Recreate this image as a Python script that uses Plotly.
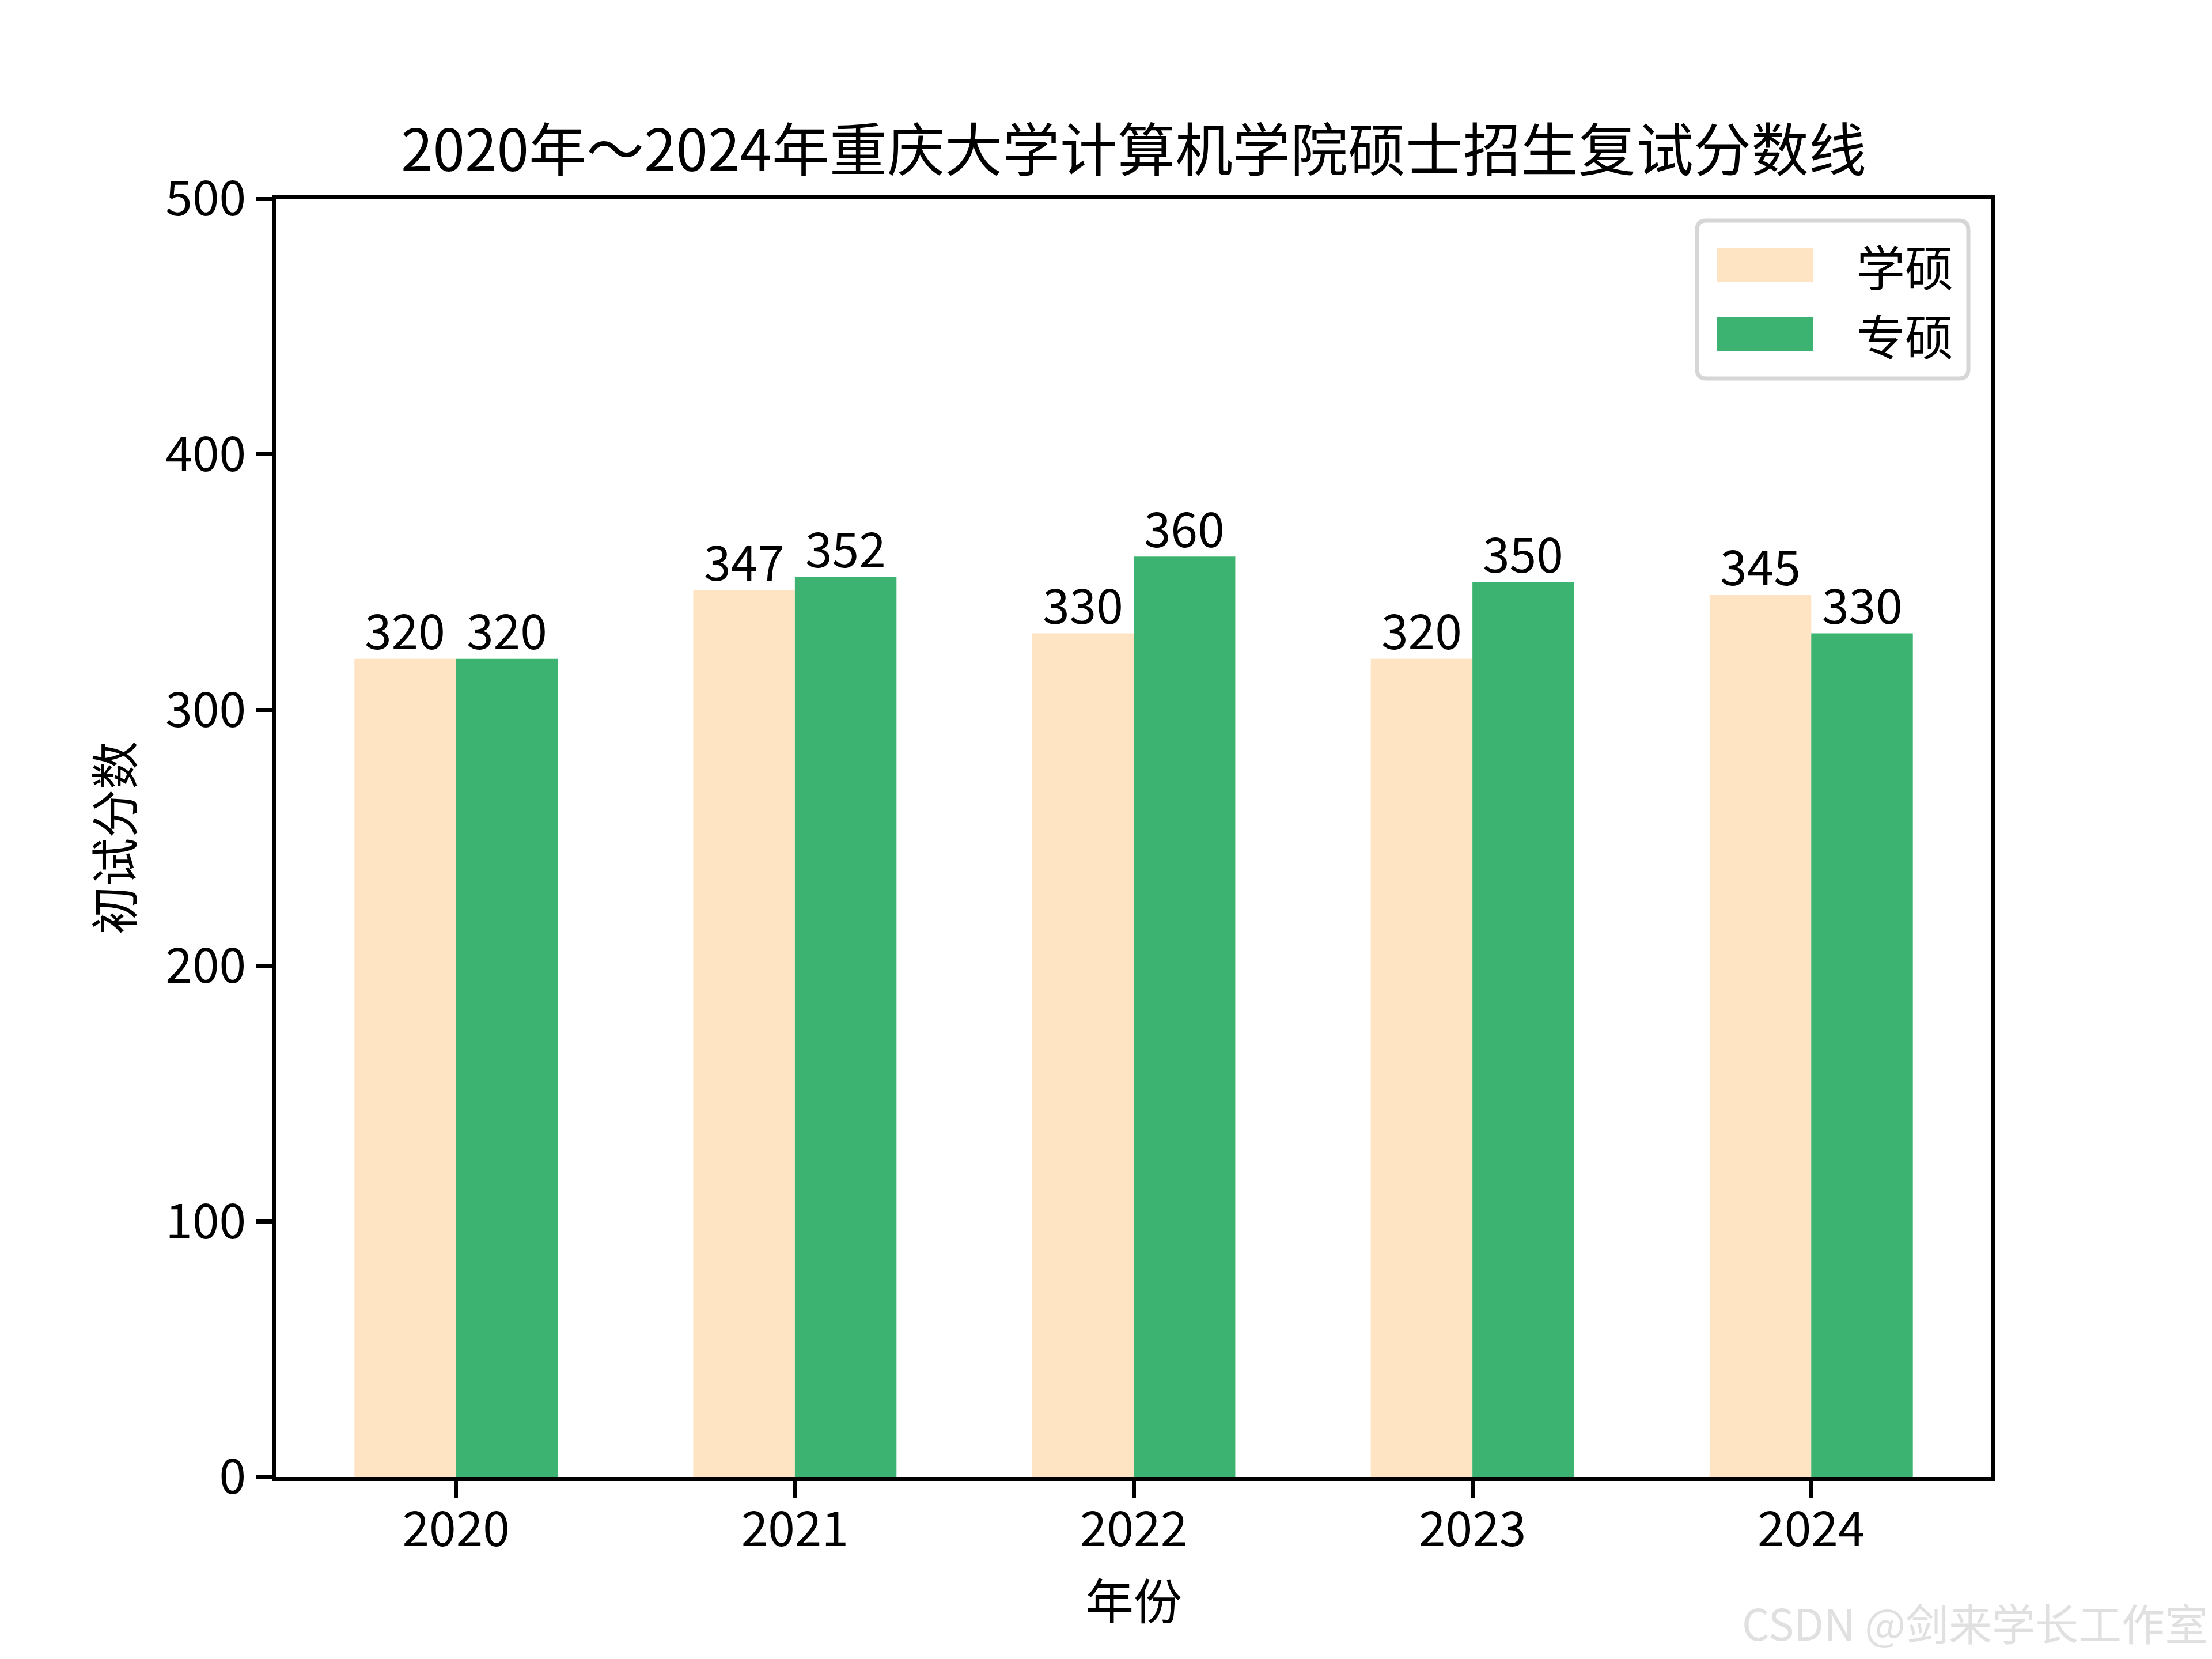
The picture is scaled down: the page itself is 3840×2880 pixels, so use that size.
import plotly.graph_objects as go

# ---- data ----
years = ["2020", "2021", "2022", "2023", "2024"]
series_names = ["学硕", "专硕"]
academic = [320, 347, 330, 320, 345]
professional = [320, 352, 360, 350, 330]
colors = ["#FFE4C4", "#3CB371"]
title_text = "2020年～2024年重庆大学计算机学院硕士招生复试分数线"
x_title = "年份"
y_title = "初试分数"
y_ticks = [0, 100, 200, 300, 400, 500]
watermark = "CSDN @剑来学长工作室"

W, H = 3840, 2880
L, R, T, B = 480, 3456, 345, 2564
PW, PH = R - L, B - T

FONT = "Noto Sans CJK SC, Noto Sans, sans-serif"
FS = 84
bw = 0.3
pos = list(range(len(years)))

def px(xp):
    return (xp - L) / PW

def py(yp):
    return (B - yp) / PH

fig = go.Figure()
for vals, name, col, off in [(academic, series_names[0], colors[0], -bw / 2),
                             (professional, series_names[1], colors[1], bw / 2)]:
    fig.add_trace(go.Bar(
        x=[p + off for p in pos], y=vals, width=bw, name=name,
        marker=dict(color=col, line=dict(width=0)), showlegend=False,
    ))
    for p, v in zip(pos, vals):
        fig.add_annotation(x=p + off, y=v, text=str(v), showarrow=False,
                           xref="x", yref="y", yanchor="middle", yshift=53,
                           font=dict(family=FONT, size=FS, color="black"))

# manual legend (matplotlib style)
x0, x1, y0, y1 = px(2946), px(3417), py(383), py(657)
rx, ry = 16 / PW, 16 / PH
path = (f"M{x0+rx},{y0} L{x1-rx},{y0} Q{x1},{y0} {x1},{y0-ry} "
        f"L{x1},{y1+ry} Q{x1},{y1} {x1-rx},{y1} L{x0+rx},{y1} "
        f"Q{x0},{y1} {x0},{y1+ry} L{x0},{y0-ry} Q{x0},{y0} {x0+rx},{y0} Z")
fig.add_shape(type="path", path=path, xref="paper", yref="paper",
              line=dict(color="#D6D6D6", width=7), fillcolor="rgba(255,255,255,0.8)", layer="above")
row_centers = [460, 580]
for name, col, yc in zip(series_names, colors, row_centers):
    fig.add_shape(type="rect", xref="paper", yref="paper",
                  x0=px(2981), x1=px(3148), y0=py(yc - 29), y1=py(yc + 29),
                  fillcolor=col, line=dict(width=0), layer="above")
    fig.add_annotation(x=px(3221), y=py(yc), xref="paper", yref="paper",
                       text=name, showarrow=False, xanchor="left", yanchor="middle",
                       font=dict(family=FONT, size=FS, color="black"))

# title
fig.add_annotation(x=0.5, y=py(253), xref="paper", yref="paper", text=title_text,
                   showarrow=False, xanchor="center", yanchor="middle",
                   font=dict(family=FONT, size=100, color="black"))

# watermark
fig.add_annotation(x=px(3835), y=py(2815), xref="paper", yref="paper", text=watermark,
                   showarrow=False, xanchor="right", yanchor="middle",
                   font=dict(family=FONT, size=75, color="#E0E0E0"))

axis_common = dict(showline=True, linecolor="black", linewidth=7, mirror=True,
                   ticks="outside", ticklen=29, tickwidth=7, tickcolor="black",
                   showgrid=False, zeroline=False,
                   tickfont=dict(family=FONT, size=FS, color="black"))

fig.update_layout(
    width=W, height=H,
    margin=dict(l=L, r=W - R, t=T, b=H - B, pad=0),
    paper_bgcolor="white", plot_bgcolor="white",
    barmode="overlay",
    showlegend=False,
    xaxis=dict(range=[-0.53, len(years) - 1 + 0.53], tickvals=pos, ticktext=years,
               ticklabelstandoff=-17,
               title=dict(text=x_title, font=dict(family=FONT, size=FS, color="black"), standoff=48),
               **axis_common),
    yaxis=dict(range=[0, 500], tickvals=y_ticks,
               title=dict(text=y_title, font=dict(family=FONT, size=FS, color="black"), standoff=30),
               **axis_common),
)

fig.write_html("out.html", config={"displayModeBar": False},
               post_script="document.body.style.margin='0';document.body.style.padding='0';")
